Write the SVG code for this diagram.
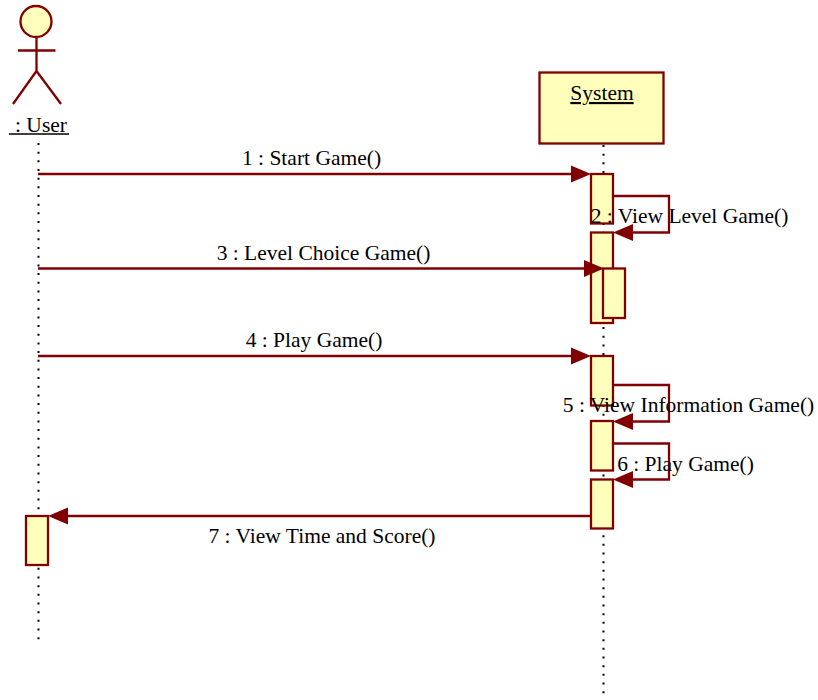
<svg xmlns="http://www.w3.org/2000/svg" width="818" height="700" viewBox="0 0 818 700">
<style>
.l{fill:none;stroke:#800000;stroke-width:2.300}
.b{fill:#ffffbb;stroke:#800000;stroke-width:2.300}
.a{fill:#800000;stroke:none}
.d{fill:none;stroke:#000;stroke-width:2;stroke-dasharray:2 6.67}
.t{font-family:"Liberation Serif","Times New Roman",serif;font-size:21.500px;fill:#000}
.m{text-anchor:middle}
</style>
<rect width="818" height="700" fill="#fff"/>
<g id="lifelines">
<line class="d" x1="38.500" y1="143" x2="38.500" y2="640"/>
<line class="d" x1="603.500" y1="145" x2="603.500" y2="704"/>
</g>
<g id="activations">
<rect class="b" x="591" y="174" width="22" height="49.500"/>
<rect class="b" x="591" y="232.500" width="22" height="90.500"/>
<rect class="b" x="603" y="268.500" width="22" height="49.500"/>
<rect class="b" x="591" y="356" width="22" height="49.500"/>
<rect class="b" x="591" y="421" width="22" height="49.500"/>
<rect class="b" x="591" y="479.500" width="22" height="49"/>
<rect class="b" x="26" y="516" width="22" height="49"/>
</g>
<g id="connectors">
<line class="l" x1="38" y1="174" x2="572" y2="174"/><polygon class="a" points="591,174 571,165.500 571,182.500"/>
<path class="l" d="M613 196H669V232.500H632"/><polygon class="a" points="613,232.500 633,224 633,241"/>
<line class="l" x1="38" y1="268.500" x2="585" y2="268.500"/><polygon class="a" points="604,268.500 584,260 584,277"/>
<line class="l" x1="38" y1="356" x2="572" y2="356"/><polygon class="a" points="591,356 571,347.500 571,364.500"/>
<path class="l" d="M613 385H669V421.500H632"/><polygon class="a" points="613,421.500 633,413 633,430"/>
<path class="l" d="M613 443.500H669V479.500H632"/><polygon class="a" points="613,479.500 633,471 633,488"/>
<line class="l" x1="591" y1="516" x2="67" y2="516"/><polygon class="a" points="48,516 68,507.500 68,524.500"/>
</g>
<g id="user">
<circle class="b" cx="36" cy="21.500" r="15.500"/>
<path class="l" d="M36.500 37V71M18 50.500H55.500M36.500 71L13 104M36.500 71L61 104"/>
<text class="t" x="15" y="132">: User</text>
<line x1="9" y1="134" x2="69" y2="134" stroke="#000" stroke-width="1.500"/>
</g>
<g id="system">
<rect class="b" x="539.500" y="72.500" width="124" height="71"/>
<text class="t m" x="602" y="100" text-decoration="underline">System</text>
</g>
<g id="labels">
<text class="t m" x="311.500" y="165">1 : Start Game()</text>
<text class="t m" x="689.500" y="223">2 : View Level Game()</text>
<text class="t m" x="323.500" y="260">3 : Level Choice Game()</text>
<text class="t m" x="314" y="347">4 : Play Game()</text>
<text class="t m" x="688.500" y="412">5 : View Information Game()</text>
<text class="t m" x="685.500" y="471">6 : Play Game()</text>
<text class="t m" x="322" y="543">7 : View Time and Score()</text>
</g>
</svg>
